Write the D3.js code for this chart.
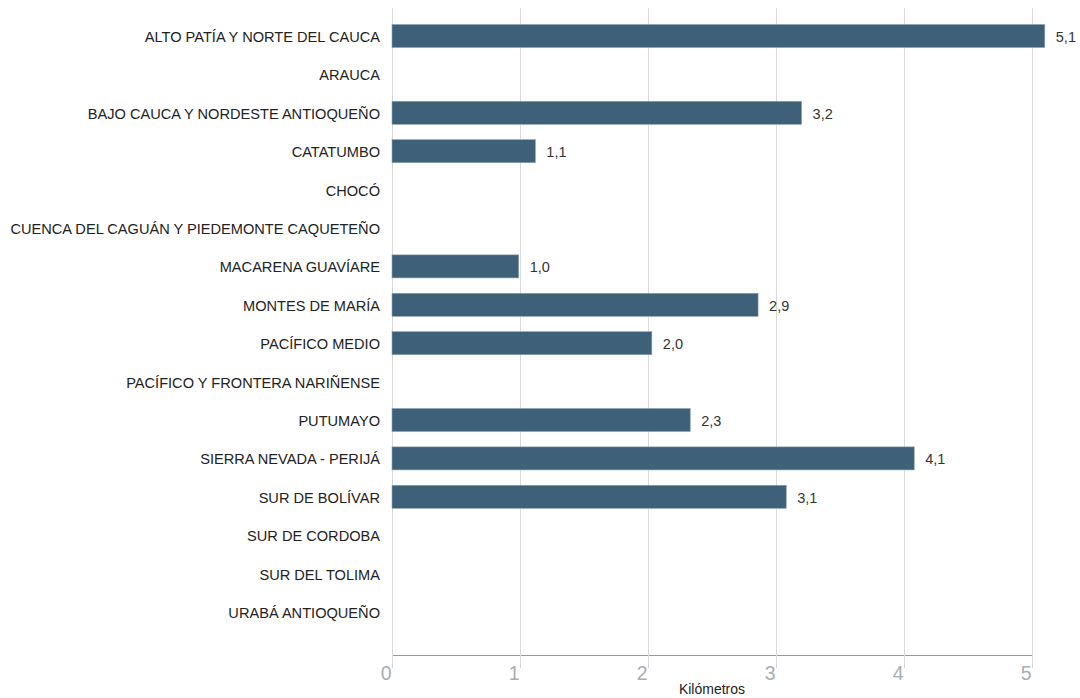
<!DOCTYPE html>
<html>
<head>
<meta charset="utf-8">
<script src="https://cdn.jsdelivr.net/npm/d3@7"></script>
<style>
  html,body{margin:0;padding:0;background:#fff}
  svg{display:block}
</style>
</head>
<body>
<div id="chart"></div>
<script>
// regions and km values (null = no bar)
var regions=['ALTO PATÍA Y NORTE DEL CAUCA','ARAUCA','BAJO CAUCA Y NORDESTE ANTIOQUEÑO','CATATUMBO','CHOCÓ',
  'CUENCA DEL CAGUÁN Y PIEDEMONTE CAQUETEÑO','MACARENA GUAVÍARE','MONTES DE MARÍA','PACÍFICO MEDIO',
  'PACÍFICO Y FRONTERA NARIÑENSE','PUTUMAYO','SIERRA NEVADA - PERIJÁ','SUR DE BOLÍVAR','SUR DE CORDOBA',
  'SUR DEL TOLIMA','URABÁ ANTIOQUEÑO'];
var km=[5.1,null,3.2,1.12,null,null,0.99,2.86,2.03,null,2.33,4.08,3.08,null,null,null];
var xTicks=[0,1,2,3,4,5];

var W=1080,H=698;
var F='"Liberation Sans",Arial,sans-serif';
var svg=d3.select('#chart').append('svg').attr('width',W).attr('height',H);

var x=d3.scaleLinear().domain([0,5]).range([392,1032]);
var y=d3.scaleBand().domain(regions).range([16.8,631.2]).paddingInner(0.4).paddingOuter(0.2);
var axisY=655;

// gridlines
svg.append('g').selectAll('line').data(xTicks).enter().append('line')
  .attr('x1',function(d){return x(d)+0.5}).attr('x2',function(d){return x(d)+0.5})
  .attr('y1',8).attr('y2',axisY)
  .attr('stroke','#d9d9d9').attr('stroke-width',1);

// bars
var rows=regions.map(function(r,i){return {r:r,v:km[i]}});
svg.append('g').selectAll('rect').data(rows.filter(function(d){return d.v!=null})).enter().append('rect')
  .attr('x',x(0)).attr('y',function(d){return y(d.r)})
  .attr('width',function(d){return x(d.v)-x(0)}).attr('height',y.bandwidth())
  .attr('fill','#3e6079').attr('stroke','#8da2b2').attr('stroke-width',0.6);

// value labels
svg.append('g').selectAll('text').data(rows.filter(function(d){return d.v!=null})).enter().append('text')
  .attr('x',function(d){return x(d.v)+11}).attr('y',function(d){return y(d.r)+y.bandwidth()/2+1})
  .attr('dominant-baseline','central').attr('font-family',F).attr('font-size',14.5).attr('fill','#333')
  .text(function(d){return d.v.toFixed(1).replace('.',',')});

// category labels
svg.append('g').selectAll('text').data(regions).enter().append('text')
  .attr('x',380).attr('y',function(d){return y(d)+y.bandwidth()/2+1})
  .attr('text-anchor','end').attr('dominant-baseline','central')
  .attr('font-family',F).attr('font-size',14.6).attr('fill','#222')
  .text(function(d){return d});

// bottom axis
var ax=svg.append('g').attr('transform','translate(0,'+axisY+')')
  .call(d3.axisBottom(x).tickValues(xTicks).tickSize(13).tickFormat(d3.format('d')));
ax.select('.domain').attr('stroke','#999').attr('d','M'+x(0)+',0.5H'+x(5));
ax.selectAll('.tick line').attr('stroke','#d9d9d9');
ax.selectAll('.tick text').attr('font-family',F).attr('font-size',19.5).attr('fill','#a9adb3')
  .attr('text-anchor','end').attr('x',-1).attr('y',25).attr('dy',0);

svg.append('text').attr('x',x(2.5)).attr('y',694).attr('text-anchor','middle')
  .attr('font-family',F).attr('font-size',14).attr('fill','#222').text('Kilómetros');
</script>
</body>
</html>
